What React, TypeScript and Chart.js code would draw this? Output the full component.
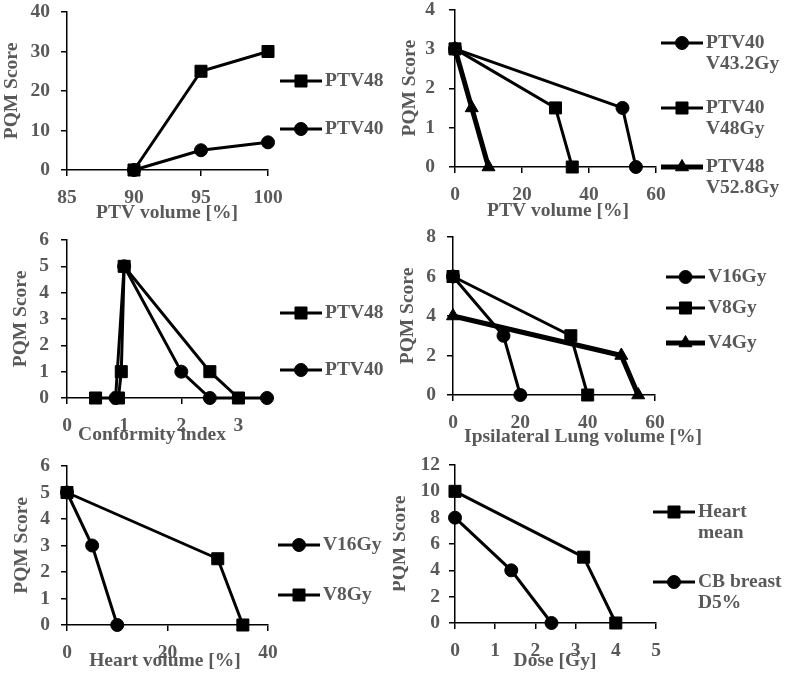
import React, { useEffect, useRef } from 'react';
import { Chart, registerables } from 'chart.js';
Chart.register(...registerables);

const FONT = 'Liberation Serif';
const FS = 19.5;
const FW = 'bold';
const TEXT = '#595959';
const LINE_GAP = 21;

// ---------- Panel 1: PTV coverage ----------
const p1X48 = [90, 95, 100];
const p1Y48 = [0, 25, 30];
const p1X40 = [90, 95, 100];
const p1Y40 = [0, 5, 7];

// ---------- Panel 2: PTV hot spots ----------
const p2X_40_432 = [0, 50, 54];
const p2Y_40_432 = [3, 1.5, 0];
const p2X_40_48 = [0, 30, 35];
const p2Y_40_48 = [3, 1.5, 0];
const p2X_48_528 = [0, 5, 10];
const p2Y_48_528 = [3, 1.5, 0];

// ---------- Panel 3: Conformity index ----------
const p3X48 = [0.5, 0.9, 0.95, 1, 2.5, 3];
const p3Y48 = [0, 0, 1, 5, 1, 0];
const p3X40 = [0.85, 1, 2, 2.5, 3.5];
const p3Y40 = [0, 5, 1, 0, 0];

// ---------- Panel 4: Ipsilateral lung ----------
const p4X16 = [0, 15, 20];
const p4Y16 = [6, 3, 0];
const p4X8 = [0, 35, 40];
const p4Y8 = [6, 3, 0];
const p4X4 = [0, 50, 55];
const p4Y4 = [4, 2, 0];

// ---------- Panel 5: Heart volume ----------
const p5X16 = [0, 5, 10];
const p5Y16 = [5, 3, 0];
const p5X8 = [0, 30, 35];
const p5Y8 = [5, 2.5, 0];

// ---------- Panel 6: Dose ----------
const p6XHeart = [0, 3.2, 4];
const p6YHeart = [10, 5, 0];
const p6XCB = [0, 1.4, 2.4];
const p6YCB = [8, 4, 0];

// Axis tick settings [min, max, step]
const p1XAxis = [85, 100, 5];
const p1YAxis = [0, 40, 10];
const p2XAxis = [0, 60, 20];
const p2YAxis = [0, 4, 1];
const p3XAxis = [0, 3.5, 1];
const p3YAxis = [0, 6, 1];
const p4XAxis = [0, 60, 20];
const p4YAxis = [0, 8, 2];
const p5XAxis = [0, 40, 20];
const p5YAxis = [0, 6, 1];
const p6XAxis = [0, 5, 1];
const p6YAxis = [0, 12, 2];

const Y_TITLE = 'PQM Score';

type Style = 'circle' | 'rect' | 'triangle';
type Series = { lines: string[]; x: number[]; y: number[]; style: Style; thick?: boolean; ly: number };
type Box = { l: number; t: number; r: number; b: number };
type Panel = {
  cell: Box;
  plot: Box;
  xTitle: string;
  xTitlePos: [number, number];
  yTitleX: number;
  xAxis: number[];
  yAxis: number[];
  yPad: number;
  series: Series[];
  leg: { x1: number; x2: number; tx: number };
};

const panels: Panel[] = [
  {
    cell: { l: 0, t: 0, r: 393, b: 226 },
    plot: { l: 67, t: 12, r: 268, b: 170 },
    xTitle: 'PTV volume [%]', xTitlePos: [167, 213], yTitleX: 12,
    xAxis: p1XAxis, yAxis: p1YAxis, yPad: 11,
    series: [
      { lines: ['PTV48'], x: p1X48, y: p1Y48, style: 'rect', ly: 81 },
      { lines: ['PTV40'], x: p1X40, y: p1Y40, style: 'circle', ly: 129 },
    ],
    leg: { x1: 280, x2: 322, tx: 325 },
  },
  {
    cell: { l: 393, t: 0, r: 786, b: 226 },
    plot: { l: 455, t: 7, r: 656, b: 167 },
    xTitle: 'PTV volume [%]', xTitlePos: [558, 211], yTitleX: 410,
    xAxis: p2XAxis, yAxis: p2YAxis, yPad: 14,
    series: [
      { lines: ['PTV40', 'V43.2Gy'], x: p2X_40_432, y: p2Y_40_432, style: 'circle', ly: 43 },
      { lines: ['PTV40', 'V48Gy'], x: p2X_40_48, y: p2Y_40_48, style: 'rect', ly: 108 },
      { lines: ['PTV48', 'V52.8Gy'], x: p2X_48_528, y: p2Y_48_528, style: 'triangle', thick: true, ly: 167 },
    ],
    leg: { x1: 661, x2: 703, tx: 706 },
  },
  {
    cell: { l: 0, t: 226, r: 393, b: 452 },
    plot: { l: 67, t: 240, r: 267, b: 398 },
    xTitle: 'Conformity index', xTitlePos: [152, 435], yTitleX: 21,
    xAxis: p3XAxis, yAxis: p3YAxis, yPad: 12,
    series: [
      { lines: ['PTV48'], x: p3X48, y: p3Y48, style: 'rect', ly: 313 },
      { lines: ['PTV40'], x: p3X40, y: p3Y40, style: 'circle', ly: 370 },
    ],
    leg: { x1: 280, x2: 322, tx: 325 },
  },
  {
    cell: { l: 393, t: 226, r: 786, b: 452 },
    plot: { l: 453, t: 237, r: 655, b: 395 },
    xTitle: 'Ipsilateral Lung volume [%]', xTitlePos: [583, 437], yTitleX: 408,
    xAxis: p4XAxis, yAxis: p4YAxis, yPad: 11,
    series: [
      { lines: ['V16Gy'], x: p4X16, y: p4Y16, style: 'circle', ly: 277 },
      { lines: ['V8Gy'], x: p4X8, y: p4Y8, style: 'rect', ly: 308 },
      { lines: ['V4Gy'], x: p4X4, y: p4Y4, style: 'triangle', thick: true, ly: 343 },
    ],
    leg: { x1: 666, x2: 705, tx: 708 },
  },
  {
    cell: { l: 0, t: 452, r: 393, b: 678 },
    plot: { l: 67, t: 466, r: 268, b: 625 },
    xTitle: 'Heart volume [%]', xTitlePos: [165, 661], yTitleX: 22,
    xAxis: p5XAxis, yAxis: p5YAxis, yPad: 11,
    series: [
      { lines: ['V16Gy'], x: p5X16, y: p5Y16, style: 'circle', ly: 545 },
      { lines: ['V8Gy'], x: p5X8, y: p5Y8, style: 'rect', ly: 595 },
    ],
    leg: { x1: 278, x2: 320, tx: 323 },
  },
  {
    cell: { l: 393, t: 452, r: 786, b: 678 },
    plot: { l: 455, t: 465, r: 656, b: 623 },
    xTitle: 'Dose [Gy]', xTitlePos: [555, 661], yTitleX: 400,
    xAxis: p6XAxis, yAxis: p6YAxis, yPad: 9,
    series: [
      { lines: ['Heart', 'mean'], x: p6XHeart, y: p6YHeart, style: 'rect', ly: 512 },
      { lines: ['CB breast', 'D5%'], x: p6XCB, y: p6YCB, style: 'circle', ly: 582 },
    ],
    leg: { x1: 653, x2: 695, tx: 698 },
  },
];

function radiusFor(s: Style) {
  return s === 'rect' ? 8.5 : s === 'triangle' ? 7.5 : 6.5;
}

function drawMarker(ctx: CanvasRenderingContext2D, style: Style, x: number, y: number, r: number) {
  ctx.beginPath();
  if (style === 'circle') {
    ctx.arc(x, y, r, 0, Math.PI * 2);
  } else if (style === 'rect') {
    const s = Math.SQRT1_2 * r;
    ctx.rect(x - s, y - s, 2 * s, 2 * s);
  } else {
    let a = 0;
    ctx.moveTo(x + Math.sin(a) * r, y - Math.cos(a) * r);
    a += (2 * Math.PI) / 3;
    ctx.lineTo(x + Math.sin(a) * r, y - Math.cos(a) * r);
    a += (2 * Math.PI) / 3;
    ctx.lineTo(x + Math.sin(a) * r, y - Math.cos(a) * r);
    ctx.closePath();
  }
  ctx.fillStyle = '#000';
  ctx.fill();
  ctx.lineWidth = 1;
  ctx.strokeStyle = '#000';
  ctx.stroke();
}

function PanelChart({ p }: { p: Panel }) {
  const ref = useRef<HTMLCanvasElement | null>(null);
  const w = p.cell.r - p.cell.l;
  const h = p.cell.b - p.cell.t;
  useEffect(() => {
    if (!ref.current) return;
    const yW = p.plot.l - p.cell.l;
    const xH = p.cell.b - p.plot.b;
    const font = { family: FONT, size: FS, weight: FW as any };
    const cssFont = `${FW} ${FS}px "${FONT}"`;
    const overlayPlugin = {
      id: 'panelOverlay',
      afterDraw(chart: any) {
        const ctx: CanvasRenderingContext2D = chart.ctx;
        const ox = p.cell.l;
        const oy = p.cell.t;
        // axis titles
        ctx.save();
        ctx.fillStyle = TEXT;
        ctx.font = cssFont;
        ctx.textAlign = 'center';
        ctx.textBaseline = 'middle';
        ctx.fillText(p.xTitle, p.xTitlePos[0] - ox, p.xTitlePos[1] - oy);
        ctx.translate(p.yTitleX - ox, (chart.chartArea.top + chart.chartArea.bottom) / 2);
        ctx.rotate(-Math.PI / 2);
        ctx.fillText(Y_TITLE, 0, 0);
        ctx.restore();
        // legend
        p.series.forEach((s) => {
          const y = s.ly - oy;
          const x1 = p.leg.x1 - ox;
          const x2 = p.leg.x2 - ox;
          ctx.save();
          ctx.strokeStyle = '#000';
          ctx.lineWidth = s.thick ? 5 : 3;
          ctx.beginPath();
          ctx.moveTo(x1, y);
          ctx.lineTo(x2, y);
          ctx.stroke();
          drawMarker(ctx, s.style, (x1 + x2) / 2, y, radiusFor(s.style));
          ctx.fillStyle = TEXT;
          ctx.font = cssFont;
          ctx.textBaseline = 'middle';
          ctx.textAlign = 'left';
          s.lines.forEach((t, k) => ctx.fillText(t, p.leg.tx - ox, y + k * LINE_GAP));
          ctx.restore();
        });
      },
    };
    const chart = new Chart(ref.current, {
      type: 'scatter',
      data: {
        datasets: p.series.map((s) => ({
          label: s.lines.join(' '),
          data: s.x.map((x, i) => ({ x, y: s.y[i] })),
          showLine: true,
          borderColor: '#000',
          backgroundColor: '#000',
          borderWidth: s.thick ? 5 : 3,
          pointStyle: s.style,
          pointRadius: radiusFor(s.style),
          pointBorderWidth: 1,
          pointBorderColor: '#000',
          pointBackgroundColor: '#000',
          tension: 0,
          clip: false as any,
        })),
      },
      plugins: [overlayPlugin],
      options: {
        animation: false,
        responsive: false,
        devicePixelRatio: 1,
        layout: {
          padding: {
            left: 0,
            top: p.plot.t - p.cell.t,
            right: p.cell.r - p.plot.r,
            bottom: 0,
          },
        },
        plugins: {
          legend: { display: false },
          tooltip: { enabled: false },
        },
        scales: {
          x: {
            type: 'linear',
            min: p.xAxis[0],
            max: p.xAxis[1],
            ticks: {
              stepSize: p.xAxis[2],
              includeBounds: false,
              autoSkip: false,
              color: TEXT,
              font,
              padding: 10,
              maxRotation: 0,
            },
            grid: { drawOnChartArea: false, drawTicks: true, tickLength: 6, color: '#000', lineWidth: 1.5 },
            border: { display: true, color: '#000', width: 1.5 },
            title: { display: false },
            afterFit: (sc: any) => {
              sc.height = xH;
              sc.paddingLeft = 0;
              sc.paddingRight = 0;
            },
          },
          y: {
            type: 'linear',
            min: p.yAxis[0],
            max: p.yAxis[1],
            ticks: {
              stepSize: p.yAxis[2],
              includeBounds: false,
              autoSkip: false,
              color: TEXT,
              font,
              padding: p.yPad,
            },
            grid: { drawOnChartArea: false, drawTicks: true, tickLength: 6, color: '#000', lineWidth: 1.5 },
            border: { display: true, color: '#000', width: 1.5 },
            title: { display: false },
            afterFit: (sc: any) => {
              sc.width = yW;
              sc.paddingTop = 0;
              sc.paddingBottom = 0;
            },
          },
        },
      } as any,
    });
    return () => chart.destroy();
  }, [p]);
  return (
    <canvas
      ref={ref}
      width={w}
      height={h}
      style={{ position: 'absolute', left: p.cell.l, top: p.cell.t, width: w, height: h }}
    />
  );
}

export default function App() {
  return (
    <div style={{ position: 'absolute', left: 0, top: 0, width: 786, height: 678, background: '#fff' }}>
      {panels.map((p, i) => (
        <PanelChart key={i} p={p} />
      ))}
    </div>
  );
}
